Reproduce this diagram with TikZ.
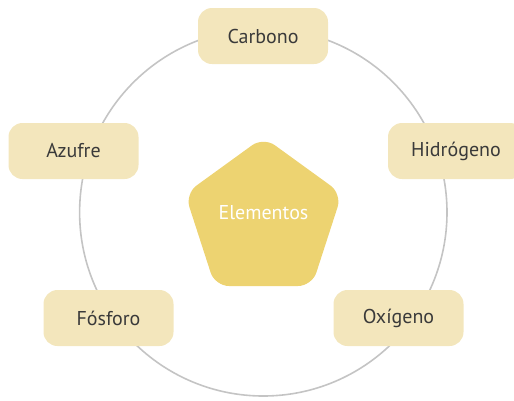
\documentclass[tikz,border=0pt]{standalone}
\usepackage{fontspec}
\setmainfont{PT Sans}
\definecolor{boxfill}{HTML}{F3E6BC}
\definecolor{pentfill}{HTML}{EDD371}
\definecolor{ringcol}{HTML}{C4C4C4}
\definecolor{txtcol}{HTML}{3A3A3A}
\begin{document}
\begin{tikzpicture}[x=1pt,y=-1pt,
  elem/.style={draw=none, fill=boxfill, rounded corners=14pt, minimum width=130pt, minimum height=56pt, inner sep=0pt, text=txtcol, font=\fontsize{20}{20}\selectfont},
  ring/.style={draw=ringcol, line width=1.6pt}]
\useasboundingbox (0,0) rectangle (514,400);
\draw[ring] (263.3,212.3) circle (183.7);
\coordinate (p1) at (263.5,137.0);
\coordinate (p2) at (341.9,193.8);
\coordinate (p3) at (312.0,286.0);
\coordinate (p4) at (215.0,286.0);
\coordinate (p5) at (185.1,193.8);
\fill[pentfill, rounded corners=14pt] (p1) -- (p2) -- (p3) -- (p4) -- (p5) -- cycle;
\node[text=white, font=\fontsize{20}{20}\selectfont] (elem) at (263.5,213) {Elementos};
\node[elem] (carbono) at (263,36) {Carbono};
\node[elem, minimum width=136pt] (hidro) at (456,151) {Hidrógeno};
\node[elem] (azufre) at (73.5,151) {Azufre};
\node[elem] (fosforo) at (108.5,318) {Fósforo};
\node[elem] (oxigeno) at (398.5,318) {Oxígeno};
\end{tikzpicture}
\end{document}
